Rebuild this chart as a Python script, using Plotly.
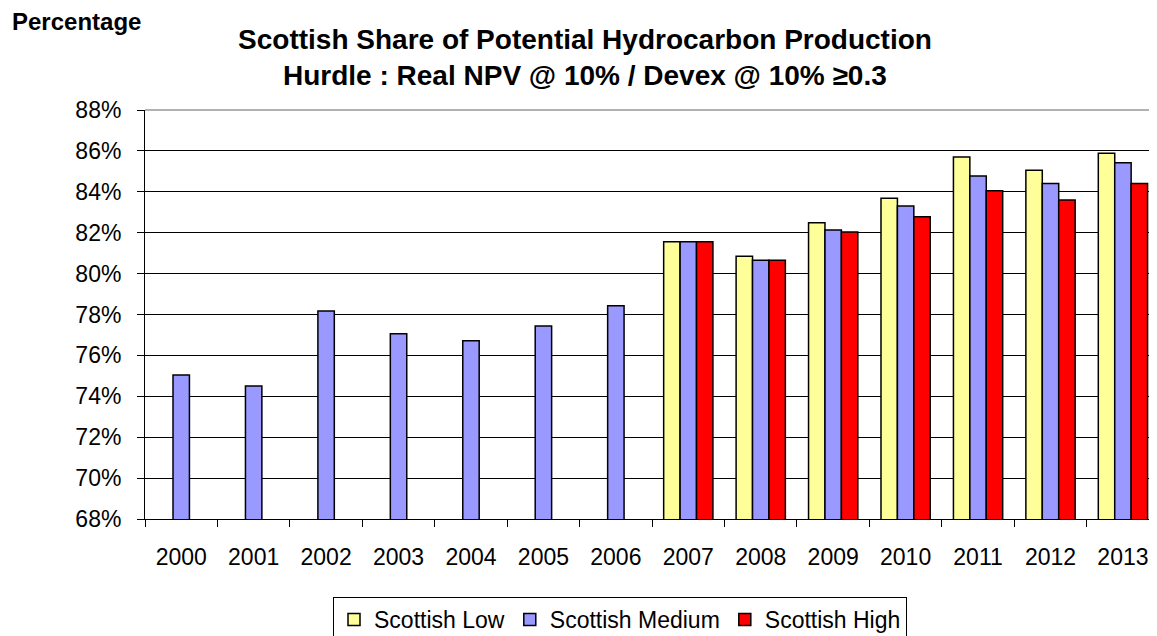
import plotly.graph_objects as go

years = [str(y) for y in range(2000, 2014)]
scottish_low = [None, None, None, None, None, None, None,
                81.56, 80.85, 82.49, 83.68, 85.70, 85.05, 85.88]
scottish_medium = [75.04, 74.50, 78.17, 77.06, 76.72, 77.44, 78.43,
                   81.56, 80.65, 82.13, 83.31, 84.77, 84.41, 85.42]
scottish_high = [None, None, None, None, None, None, None,
                 81.56, 80.65, 82.03, 82.78, 84.05, 83.60, 84.41]
y_ticks = list(range(68, 89, 2))
y_tick_labels = [f"{v}%" for v in y_ticks]

FONT = "Liberation Sans, Arial, sans-serif"

# page body has an 8px margin; the figure is sized/placed to compensate
W, H = 1149, 628
L, T, B = 137, 102, 117
PW, PH = W - L, H - T - B

fig = go.Figure()
for name, vals, col in [("Scottish Low", scottish_low, "#FFFF99"),
                        ("Scottish Medium", scottish_medium, "#9999FF"),
                        ("Scottish High", scottish_high, "#FF0000")]:
    fig.add_trace(go.Bar(
        x=years, y=vals, name=name,
        marker=dict(color=col, line=dict(color="black", width=1.5)),
    ))

fig.update_layout(
    width=W, height=H,
    margin=dict(l=L, r=0, t=T, b=B, autoexpand=False),
    paper_bgcolor="white", plot_bgcolor="white",
    barmode="group", bargap=0.32, bargroupgap=0,
    font=dict(family=FONT, color="black", size=23),
    title=dict(text="<b>Scottish Share of Potential Hydrocarbon Production</b>",
               x=577 / W, xanchor="center", xref="container",
               y=1 - 31 / H, yanchor="middle", yref="container",
               font=dict(size=28, family=FONT)),
    showlegend=True,
    legend=dict(orientation="h", x=(325 - L) / PW, xanchor="left",
                y=-(589 - (T + PH)) / PH, yanchor="top",
                bordercolor="black", borderwidth=1,
                font=dict(size=23, family=FONT),
                traceorder="normal", itemwidth=30),
    annotations=[
        dict(text="<b>Hurdle : Real NPV @ 10% / Devex @ 10% ≥0.3</b>",
             xref="paper", yref="paper", x=(577 - L) / PW, y=(T + PH - 67) / PH,
             xanchor="center", yanchor="middle", showarrow=False,
             font=dict(size=28, family=FONT)),
        dict(text="<b>Percentage</b>",
             xref="paper", yref="paper", x=(2 - L) / PW, y=(T + PH - 14) / PH,
             xanchor="left", yanchor="middle", showarrow=False,
             font=dict(size=24, family=FONT)),
    ],
    shapes=[dict(type="line", xref="paper", yref="paper", x0=0, x1=1, y0=1, y1=1,
                 line=dict(color="#999999", width=1.5), layer="above")],
)
fig.update_xaxes(
    type="category", range=[-0.5, -0.5 + PW / 72.44],
    showline=True, linecolor="black", linewidth=1,
    ticks="outside", tickson="boundaries", ticklen=7, tickcolor="black",
    ticklabelstandoff=17,
    showgrid=False, tickfont=dict(size=23, family=FONT),
)
fig.update_yaxes(
    range=[68, 88], tickvals=y_ticks, ticktext=y_tick_labels,
    showline=True, linecolor="black", linewidth=1,
    ticks="outside", ticklen=7, tickcolor="black",
    ticklabelstandoff=11,
    showgrid=True, gridcolor="black", gridwidth=1,
    tickfont=dict(size=23, family=FONT), zeroline=False,
)
fig.write_html("out.html")
